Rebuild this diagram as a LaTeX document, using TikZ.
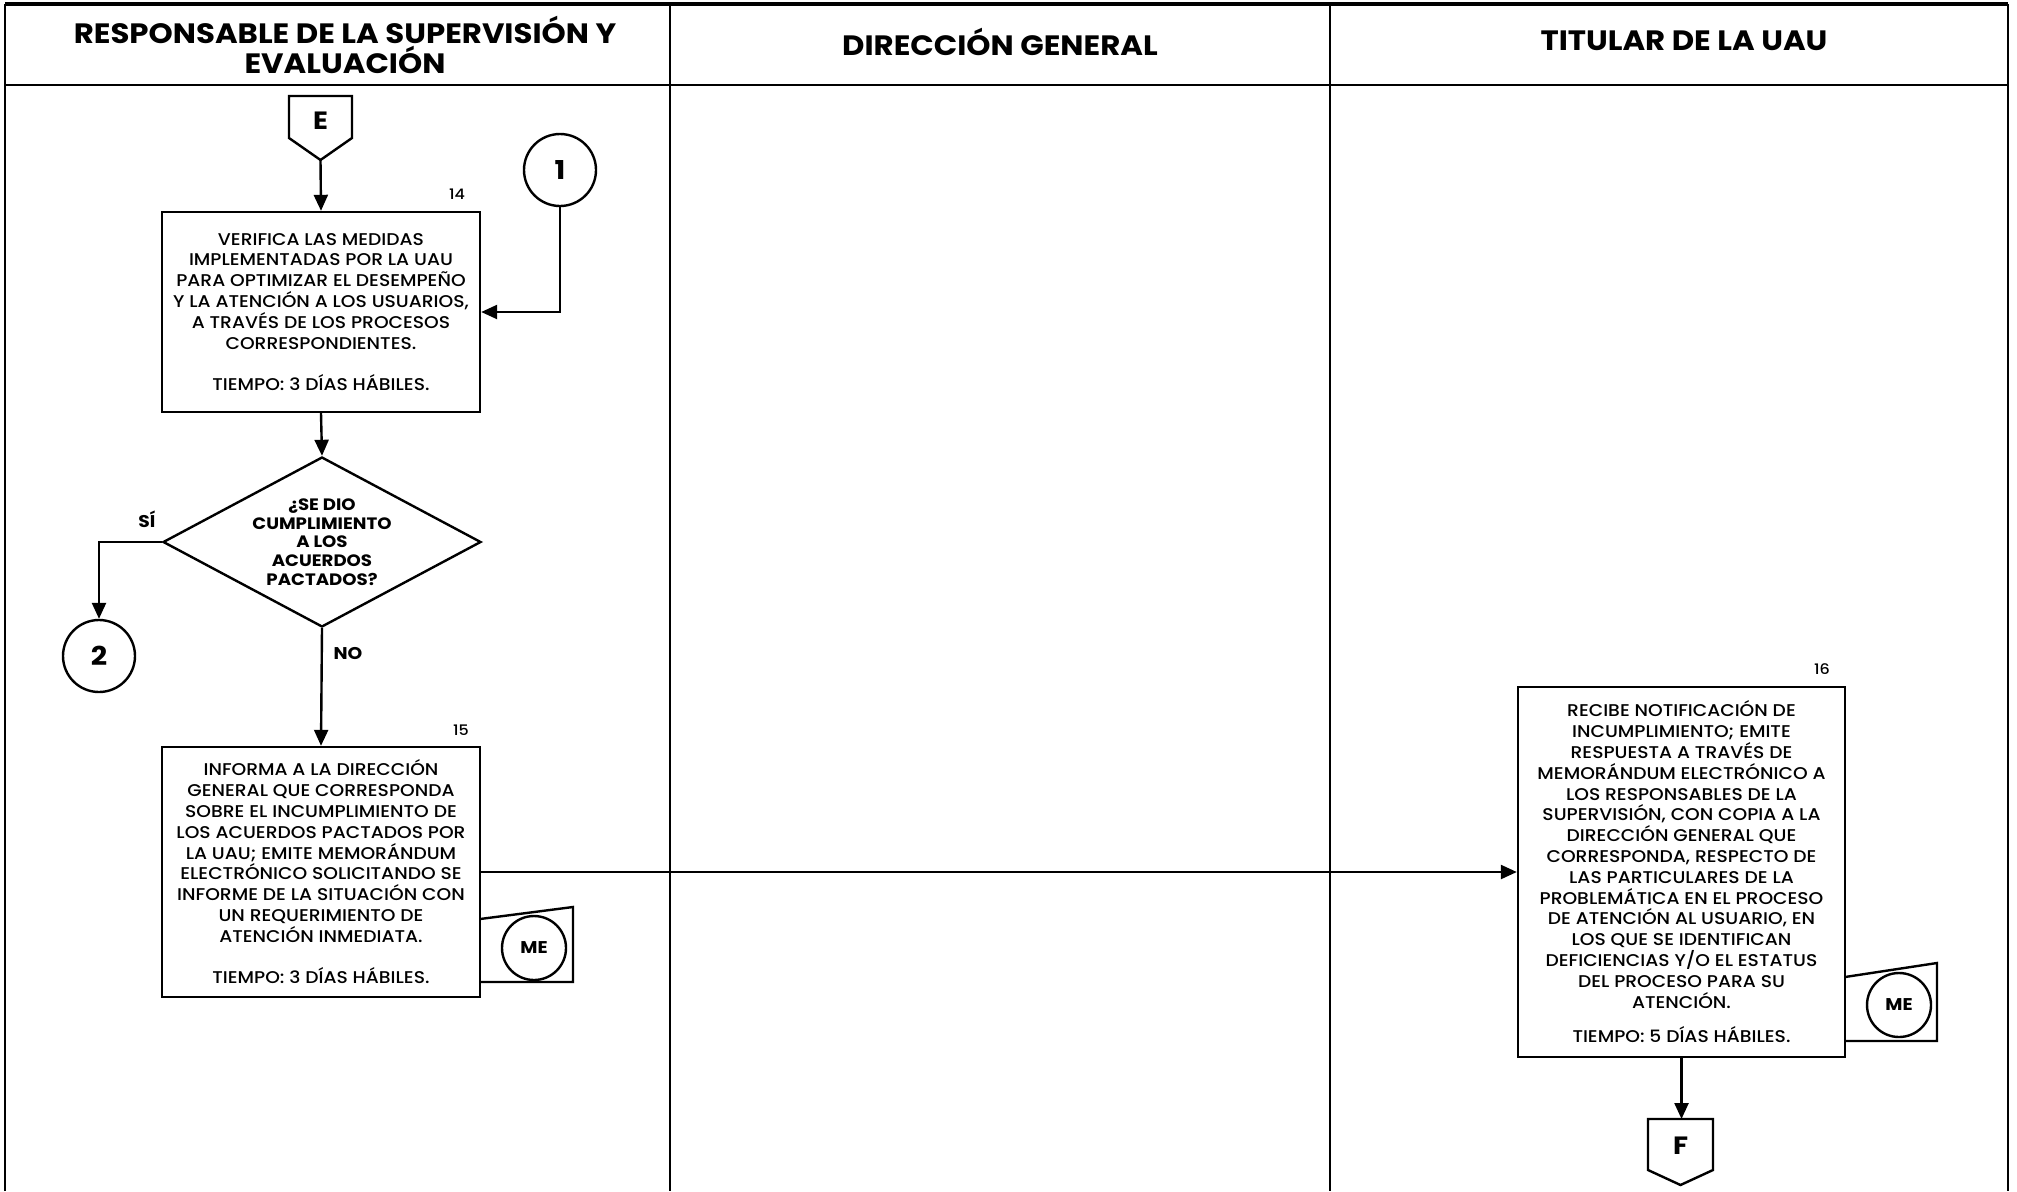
\documentclass[tikz,border=0pt]{standalone}
\usepackage{fontspec}
\setmainfont{Poppins Medium}[BoldFont=Poppins Bold, FakeStretch=1.1]
\usetikzlibrary{shapes.geometric,arrows.meta}
\begin{document}
\begin{tikzpicture}[x=1pt,y=-1pt,
  ln/.style={line width=2.4pt, line join=miter},
  arr/.style={ln, -{Triangle[length=16pt,width=14pt]}},
  proc/.style={draw, ln, minimum width=318pt, align=center, font=\fontsize{17}{20.8}\selectfont, inner sep=0pt},
  conn/.style={draw, ln, circle, inner sep=0pt, minimum size=72pt, font=\fontsize{26}{26}\selectfont\bfseries},
  mecirc/.style={draw, ln, circle, inner sep=0pt, minimum size=64pt, font=\fontsize{17}{17}\selectfont\bfseries},
  num/.style={font=\fontsize{14.5}{14.5}\selectfont},
  lbl/.style={font=\fontsize{17}{17}\selectfont\bfseries},
  hdr/.style={font=\fontsize{28}{30}\selectfont\bfseries, align=center},
  offp/.style={font=\fontsize{25}{25}\selectfont\bfseries},
  frm/.style={line width=2pt},
]
\useasboundingbox[fill=white] (0,0) rectangle (2017,1191);
% frame
\draw[frm] (5,1191) -- (5,5) -- (2008,5) -- (2008,1191);
\draw[line width=4pt] (5,4) -- (2008,4);
\draw[frm] (5,85) -- (2008,85);
\draw[frm] (670,5) -- (670,1191);
\draw[frm] (1330,5) -- (1330,1191);
% headers
\node[hdr] (h1) at (345,45) {RESPONSABLE DE LA SUPERVISIÓN Y\\EVALUACIÓN};
\node[hdr] (h2) at (1000,42) {DIRECCIÓN GENERAL};
\node[hdr] (h3) at (1684,41) {TITULAR DE LA UAU};
% off-page E
\draw[ln] (289,96) -- (352,96) -- (352,138) -- (320.5,160) -- (289,138) -- cycle;
\node[offp] (E) at (320.5,121) {E};
\coordinate (Ebot) at (320.5,160);
% box 14
\node[proc, minimum height=200pt] (b14) at (321,312) {VERIFICA LAS MEDIDAS\\IMPLEMENTADAS POR LA UAU\\PARA OPTIMIZAR EL DESEMPEÑO\\Y LA ATENCIÓN A LOS USUARIOS,\\A TRAVÉS DE LOS PROCESOS\\CORRESPONDIENTES.\\[20.8pt]TIEMPO: 3 DÍAS HÁBILES.};
\node[num] (n14) at (457,194) {14};
\draw[arr] (Ebot) -- (b14.north);
% connector 1
\node[conn] (c1) at (560,170) {1};
\draw[arr] (c1.south) |- (b14.east);
% decision
\node[draw, ln, diamond, inner sep=0pt, minimum width=318pt, minimum height=170pt] (dia) at (322,542) {};
\node[align=center, font=\fontsize{16.5}{18.7}\selectfont\bfseries, inner sep=0pt] (diat) at (322,542) {¿SE DIO\\CUMPLIMIENTO\\A LOS\\ACUERDOS\\PACTADOS?};
\draw[arr] (b14.south) -- (dia.north);
% connector 2
\node[conn] (c2) at (99,656) {2};
\draw[arr] (dia.west) -| (c2.north);
\node[lbl] (si) at (147,519) {SÍ};
% box 15
\node[proc, minimum height=250pt] (b15) at (321,872) {INFORMA A LA DIRECCIÓN\\GENERAL QUE CORRESPONDA\\SOBRE EL INCUMPLIMIENTO DE\\LOS ACUERDOS PACTADOS POR\\LA UAU; EMITE MEMORÁNDUM\\ELECTRÓNICO SOLICITANDO SE\\INFORME DE LA SITUACIÓN CON\\UN REQUERIMIENTO DE\\ATENCIÓN INMEDIATA.\\[20.8pt]TIEMPO: 3 DÍAS HÁBILES.};
\node[num] (n15) at (461,730) {15};
\draw[arr] (dia.south) -- (b15.north);
\node[lbl] (no) at (348,653) {NO};
% ME 15
\draw[ln] (480,919) -- (573,907) -- (573,982) -- (480,982);
\node[mecirc] (me15) at (534,948) {ME};
% box 16
\node[proc, minimum width=327pt, minimum height=370pt] (b16) at (1681.5,872) {RECIBE NOTIFICACIÓN DE\\INCUMPLIMIENTO; EMITE\\RESPUESTA A TRAVÉS DE\\MEMORÁNDUM ELECTRÓNICO A\\LOS RESPONSABLES DE LA\\SUPERVISIÓN, CON COPIA A LA\\DIRECCIÓN GENERAL QUE\\CORRESPONDA, RESPECTO DE\\LAS PARTICULARES DE LA\\PROBLEMÁTICA EN EL PROCESO\\DE ATENCIÓN AL USUARIO, EN\\LOS QUE SE IDENTIFICAN\\DEFICIENCIAS Y/O EL ESTATUS\\DEL PROCESO PARA SU\\ATENCIÓN.\\[14pt]TIEMPO: 5 DÍAS HÁBILES.};
\node[num] (n16) at (1822,669) {16};
\draw[arr] (b15.east) -- (b16.west);
% ME 16
\draw[ln] (1845,977) -- (1937,963) -- (1937,1041) -- (1845,1041);
\node[mecirc] (me16) at (1899,1005) {ME};
% off-page F
\draw[ln] (1648,1119) -- (1713,1119) -- (1713,1170) -- (1680.5,1185) -- (1648,1170) -- cycle;
\node[offp] (F) at (1680.5,1146) {F};
\coordinate (Ftop) at (1681.5,1119);
\draw[arr] (b16.south) -- (Ftop);
\end{tikzpicture}
\end{document}
